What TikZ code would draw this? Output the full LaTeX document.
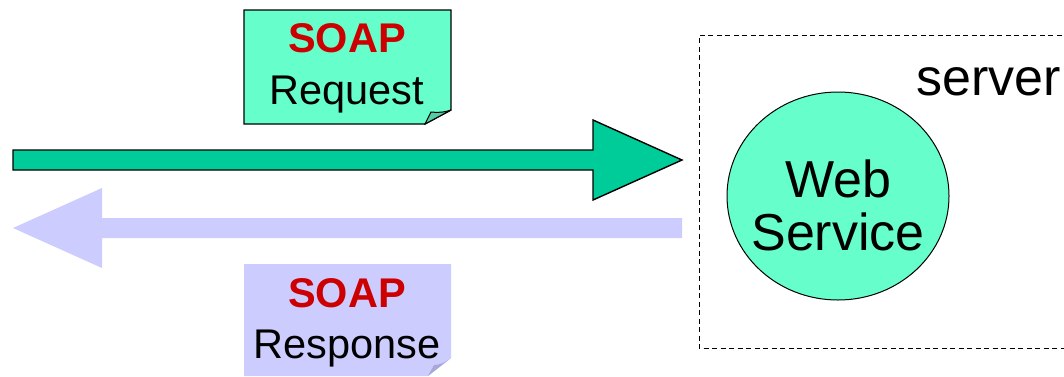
\documentclass[tikz,border=0pt]{standalone}
\usepackage{fontspec}
\usetikzlibrary{shapes.geometric}
\setmainfont{Liberation Sans}
\definecolor{notegreen}{HTML}{66FFCC}
\definecolor{foldgreen}{HTML}{55CCA8}
\definecolor{arrowgreen}{HTML}{00CC99}
\definecolor{soapblue}{HTML}{CCCCFF}
\definecolor{foldblue}{HTML}{A8A8D8}
\definecolor{soapred}{HTML}{CC0000}
\begin{document}
\begin{tikzpicture}[x=1pt,y=-1pt,
  notetxt/.style={anchor=base,inner sep=0pt,font=\fontsize{41.5}{45}\selectfont},
  soaptxt/.style={notetxt,font=\fontsize{41.5}{45}\selectfont\bfseries,text=soapred},
  bigtxt/.style={anchor=base,inner sep=0pt,font=\fontsize{52}{56}\selectfont},
  outl/.style={draw=black,line width=1.4pt,line join=miter}]
\useasboundingbox (0,0) rectangle (1064,376);
% request note
\path[fill=notegreen,outl] (244,10) -- (451,10) -- (451,110) -- (425,124) -- (244,124) -- cycle;
\path[fill=foldgreen,draw=black,line width=1pt] (425,124) -- (431,112) .. controls (438,113) and (446,112) .. (451,110) -- cycle;
\node[soaptxt] (reqsoap) at (347,52) {SOAP};
\node[notetxt] (reqtxt) at (347,104) {Request};
% response note
\path[fill=soapblue] (244,264) -- (451,264) -- (451,358) -- (428,376) -- (244,376) -- cycle;
\path[fill=foldblue] (428,376) -- (434,365) .. controls (440,365) and (446,362) .. (451,358) -- cycle;
\node[soaptxt] (ressoap) at (347,307) {SOAP};
\node[notetxt] (restxt) at (347,358) {Response};
% request arrow
\path[fill=arrowgreen,outl] (13,150) -- (593,150) -- (593,120) -- (682,160) -- (593,200) -- (593,170) -- (13,170) -- cycle;
% response arrow
\path[fill=soapblue] (682,218) -- (102,218) -- (102,188) -- (13,228) -- (102,268) -- (102,238) -- (682,238) -- cycle;
% server box
\draw[line width=1pt,dash pattern=on 5pt off 3.5pt] (1070,35) -- (699,35) -- (699,348) -- (1070,348);
\node[bigtxt,anchor=base west] (server) at (916,95) {server};
% web service
\node[draw=black,line width=1pt,fill=notegreen,ellipse,minimum width=222pt,minimum height=208pt,inner sep=0pt] (ws) at (838,196) {};
\node[bigtxt] (web) at (838,197) {Web};
\node[bigtxt] (svc) at (838,250) {Service};
\end{tikzpicture}
\end{document}
